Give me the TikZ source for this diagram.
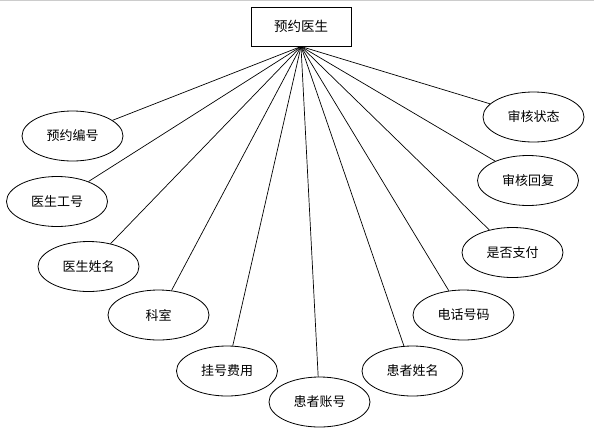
\documentclass[tikz,border=0pt]{standalone}
\usepackage{fontspec}
\newfontfamily\cjk{Noto Sans CJK SC}
\usetikzlibrary{shapes.geometric}
\begin{document}
\begin{tikzpicture}[x=1pt,y=-1pt,
  attr/.style={draw, ellipse, line width=0.8pt, minimum width=101pt, minimum height=50pt, inner sep=0pt, font=\cjk\fontsize{13}{15}\selectfont},
  ent/.style={draw, rectangle, line width=0.8pt, minimum width=100pt, minimum height=39pt, inner sep=0pt, font=\cjk\fontsize{13.5}{15}\selectfont},
  link/.style={line width=0.7pt}]
\useasboundingbox (0,0) rectangle (594,429);
\draw[color=black!20, line width=1pt] (0,0.5) -- (594,0.5);
\node[ent] (main) at (301,26.5) {预约医生};
\coordinate (hub) at (301,46.5);
\node[attr] (a1) at (72.5,136) {预约编号};
\node[attr] (a2) at (57,201.5) {医生工号};
\node[attr] (a3) at (88.5,266.5) {医生姓名};
\node[attr] (a4) at (158.5,315) {科室};
\node[attr] (a5) at (227,371) {挂号费用};
\node[attr] (a6) at (319.5,402) {患者账号};
\node[attr] (a7) at (412.5,371) {患者姓名};
\node[attr] (a8) at (463.5,315) {电话号码};
\node[attr] (a9) at (512.5,252.5) {是否支付};
\node[attr] (a10) at (528,180.5) {审核回复};
\node[attr] (a11) at (533.5,117) {审核状态};
\foreach \n in {a1,a2,a3,a4,a5,a6,a7,a8,a9,a10,a11}
  \draw[link] (hub) -- (\n);
\end{tikzpicture}
\end{document}
